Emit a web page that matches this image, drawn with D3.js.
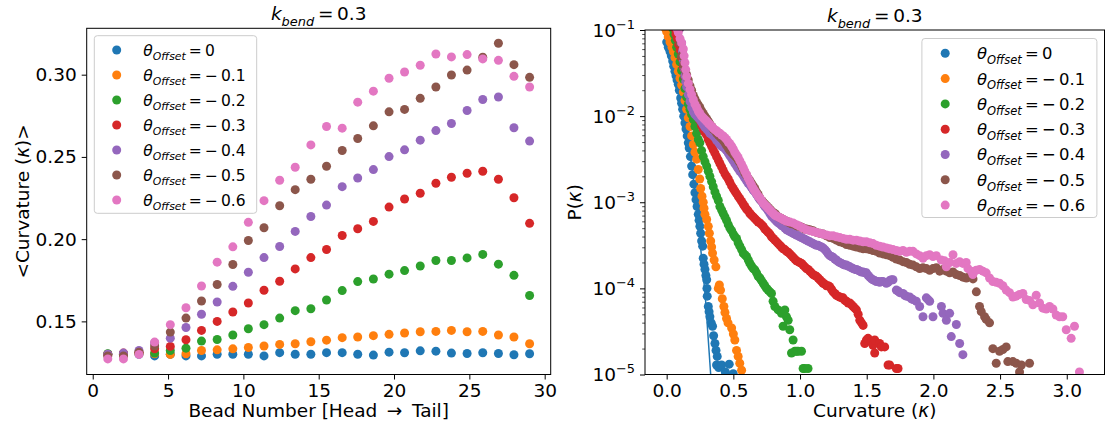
<!DOCTYPE html>
<html><head><meta charset="utf-8">
<script src="https://cdn.jsdelivr.net/npm/d3@7"></script>
<style>
body{margin:0;background:#fff}
svg{display:block}
text{font-family:"DejaVu Sans",sans-serif;fill:#000}
</style></head>
<body><svg id="c" width="1109" height="430"></svg>
<script>
// ---------------- data ----------------
const colors = ["#1f77b4","#ff7f0e","#2ca02c","#d62728","#9467bd","#8c564b","#e377c2"];
const offsets = ["0","\u2212\u20090.1","\u2212\u20090.2","\u2212\u20090.3","\u2212\u20090.4","\u2212\u20090.5","\u2212\u20090.6"];
const titleValue = "0.3";

// left panel: bead positions and mean curvature per offset
const beads = [1.00,2.04,3.07,4.11,5.15,6.19,7.22,8.26,9.30,10.33,11.37,12.41,13.44,14.48,15.52,16.56,17.59,18.63,19.67,20.70,21.74,22.78,23.81,24.85,25.89,26.93,27.96,29.00];
const meanK0 = [0.130,0.130,0.130,0.129,0.130,0.129,0.129,0.130,0.130,0.130,0.129,0.131,0.130,0.130,0.131,0.131,0.130,0.1295,0.1313,0.1309,0.1321,0.1319,0.1307,0.1305,0.1309,0.1305,0.1297,0.1303];
const meanK1 = [0.130,0.130,0.1303,0.1303,0.1299,0.1303,0.1323,0.1327,0.1333,0.1341,0.135,0.136,0.1364,0.1376,0.1386,0.1401,0.1405,0.1413,0.1421,0.1429,0.1437,0.1439,0.1445,0.1437,0.1439,0.1417,0.1405,0.1364];
const meanK2 = [0.1303,0.1303,0.1307,0.1307,0.1323,0.1337,0.138,0.139,0.1417,0.1455,0.148,0.152,0.1565,0.1577,0.163,0.1687,0.1742,0.1758,0.1787,0.1809,0.1837,0.187,0.187,0.1886,0.1907,0.1848,0.178,0.1657];
const meanK3 = [0.1299,0.1307,0.1313,0.1333,0.1348,0.1388,0.1445,0.15,0.1557,0.1612,0.1689,0.1744,0.1819,0.1888,0.1937,0.2022,0.2063,0.2108,0.2195,0.2244,0.2279,0.234,0.2376,0.2401,0.2413,0.2364,0.2252,0.2096];
const meanK4 = [0.130,0.1307,0.1323,0.137,0.1398,0.1463,0.1543,0.1618,0.1713,0.1799,0.1888,0.1955,0.2047,0.2138,0.2207,0.2319,0.2372,0.2423,0.2502,0.2543,0.2602,0.266,0.2703,0.2782,0.2849,0.2864,0.2677,0.2596];
const meanK5 = [0.129,0.129,0.1313,0.135,0.1435,0.152,0.1624,0.1724,0.1846,0.1992,0.2069,0.2203,0.2301,0.2364,0.2443,0.2539,0.2612,0.2689,0.2774,0.2789,0.2856,0.2925,0.2998,0.3028,0.3106,0.3191,0.3061,0.2984];
const meanK6 = [0.1272,0.1272,0.1299,0.1374,0.148,0.1583,0.1715,0.186,0.1953,0.2102,0.2234,0.2358,0.2437,0.2573,0.2685,0.2675,0.2833,0.29,0.2978,0.3016,0.3057,0.3126,0.3108,0.3122,0.3096,0.3087,0.299,0.2925];
const meanSeries = [meanK0,meanK1,meanK2,meanK3,meanK4,meanK5,meanK6];

// right panel: histogram points [curvature, log10 P]
const hist0 = [[0.0,-1.14],[0.012,-1.2],[0.025,-1.25],[0.035,-1.30],[0.045,-1.36],[0.053,-1.42],[0.062,-1.48],[0.07,-1.53],[0.078,-1.58],[0.087,-1.63],[0.095,-1.70],[0.105,-1.79],[0.112,-1.85],[0.12,-1.92],[0.128,-2.0],[0.137,-2.08],[0.145,-2.15],[0.154,-2.23],[0.162,-2.31],[0.169,-2.37],[0.178,-2.47],[0.187,-2.58],[0.195,-2.68],[0.204,-2.79],[0.212,-2.89],[0.22,-2.97],[0.228,-3.05],[0.237,-3.14],[0.243,-3.21],[0.249,-3.28],[0.255,-3.36],[0.262,-3.45],[0.27,-3.51],[0.274,-3.65],[0.28,-3.72],[0.287,-3.78],[0.294,-3.85],[0.3,-3.90],[0.302,-4.0],[0.304,-4.09],[0.312,-4.21],[0.318,-4.27],[0.324,-4.33],[0.334,-4.40],[0.344,-4.44],[0.352,-4.55],[0.362,-4.64],[0.37,-4.72],[0.379,-4.79],[0.374,-4.89],[0.39,-4.92],[0.412,-4.89],[0.44,-4.97],[0.469,-4.88],[0.499,-4.99]];
const fit0 = [[-0.01,-1.05],[0.03,-1.2],[0.06,-1.42],[0.1,-1.72],[0.15,-2.15],[0.2,-2.72],[0.25,-3.45],[0.29,-4.1],[0.33,-5.0],[0.34,-5.2]];
const hist1 = [[-0.01,-0.98],[0.0,-1.02],[0.012,-1.08],[0.025,-1.14],[0.04,-1.2],[0.05,-1.25],[0.062,-1.32],[0.075,-1.4],[0.087,-1.48],[0.1,-1.56],[0.112,-1.64],[0.125,-1.72],[0.137,-1.82],[0.15,-1.92],[0.162,-2.02],[0.175,-2.12],[0.187,-2.23],[0.2,-2.33],[0.212,-2.42],[0.225,-2.5],[0.237,-2.62],[0.248,-2.73],[0.255,-2.84],[0.265,-2.93],[0.274,-3.0],[0.28,-3.07],[0.287,-3.14],[0.3,-3.2],[0.312,-3.28],[0.32,-3.36],[0.33,-3.45],[0.337,-3.52],[0.344,-3.59],[0.356,-3.67],[0.369,-3.75],[0.387,-4.0],[0.395,-3.96],[0.404,-4.02],[0.417,-4.12],[0.429,-4.21],[0.437,-4.28],[0.449,-4.35],[0.46,-4.4],[0.487,-4.46],[0.5,-4.53],[0.511,-4.6],[0.524,-4.72],[0.536,-4.79],[0.548,-4.87],[0.562,-4.95]];
const hist2 = [[0.045,-0.98],[0.055,-1.05],[0.065,-1.12],[0.075,-1.2],[0.087,-1.28],[0.1,-1.37],[0.112,-1.47],[0.125,-1.57],[0.137,-1.68],[0.15,-1.78],[0.162,-1.86],[0.175,-1.92],[0.187,-1.98],[0.2,-2.04],[0.212,-2.12],[0.225,-2.2],[0.237,-2.27],[0.249,-2.31],[0.262,-2.4],[0.274,-2.47],[0.287,-2.53],[0.3,-2.58],[0.312,-2.64],[0.324,-2.7],[0.337,-2.76],[0.349,-2.82],[0.362,-2.88],[0.374,-2.93],[0.387,-2.98],[0.399,-3.05],[0.412,-3.09],[0.424,-3.13],[0.437,-3.17],[0.449,-3.21],[0.462,-3.26],[0.474,-3.3],[0.487,-3.33],[0.5,-3.37],[0.511,-3.40],[0.524,-3.42],[0.536,-3.47],[0.549,-3.51],[0.562,-3.55],[0.574,-3.59],[0.586,-3.61],[0.599,-3.63],[0.612,-3.67],[0.624,-3.71],[0.636,-3.74],[0.649,-3.77],[0.661,-3.785],[0.674,-3.82],[0.686,-3.86],[0.699,-3.88],[0.711,-3.91],[0.724,-3.94],[0.736,-3.97],[0.749,-4.0],[0.761,-4.02],[0.774,-4.04],[0.786,-4.06],[0.798,-4.15],[0.811,-4.21],[0.836,-4.25],[0.861,-4.29],[0.873,-4.44],[0.886,-4.25],[0.898,-4.33],[0.911,-4.37],[0.923,-4.48],[0.936,-4.75],[0.948,-4.6],[0.961,-4.73],[0.974,-4.73],[0.986,-4.73],[1.011,-4.73],[1.023,-4.93],[1.035,-4.93],[1.06,-4.93]];
const hist3 = [[0.06,-0.98],[0.07,-1.05],[0.08,-1.1],[0.09,-1.17],[0.1,-1.23],[0.112,-1.32],[0.125,-1.43],[0.137,-1.54],[0.15,-1.61],[0.162,-1.67],[0.175,-1.73],[0.187,-1.79],[0.2,-1.84],[0.212,-1.89],[0.225,-1.95],[0.237,-2.01],[0.249,-2.05],[0.262,-2.11],[0.274,-2.15],[0.287,-2.19],[0.3,-2.22],[0.312,-2.27],[0.324,-2.31],[0.337,-2.35],[0.349,-2.39],[0.362,-2.43],[0.374,-2.47],[0.387,-2.51],[0.399,-2.55],[0.412,-2.59],[0.424,-2.63],[0.437,-2.67],[0.449,-2.70],[0.462,-2.73],[0.474,-2.77],[0.487,-2.81],[0.499,-2.84],[0.511,-2.87],[0.524,-2.9],[0.536,-2.93],[0.549,-2.96],[0.562,-2.99],[0.574,-3.02],[0.586,-3.05],[0.599,-3.08],[0.611,-3.1],[0.624,-3.13],[0.636,-3.15],[0.649,-3.17],[0.661,-3.19],[0.674,-3.21],[0.686,-3.23],[0.699,-3.24],[0.711,-3.26],[0.724,-3.28],[0.736,-3.31],[0.749,-3.33],[0.761,-3.35],[0.774,-3.37],[0.786,-3.40],[0.799,-3.42],[0.811,-3.44],[0.824,-3.46],[0.836,-3.48],[0.849,-3.50],[0.861,-3.52],[0.873,-3.54],[0.886,-3.55],[0.899,-3.57],[0.911,-3.58],[0.924,-3.60],[0.936,-3.62],[0.948,-3.64],[0.961,-3.66],[0.973,-3.68],[0.986,-3.69],[0.998,-3.70],[1.011,-3.71],[1.023,-3.73],[1.036,-3.75],[1.048,-3.77],[1.061,-3.78],[1.073,-3.80],[1.086,-3.82],[1.098,-3.84],[1.111,-3.85],[1.123,-3.86],[1.136,-3.88],[1.148,-3.90],[1.161,-3.92],[1.173,-3.94],[1.186,-3.95],[1.198,-3.97],[1.211,-3.97],[1.223,-3.98],[1.236,-4.01],[1.248,-4.04],[1.261,-4.06],[1.273,-4.08],[1.286,-4.09],[1.298,-4.1],[1.311,-4.11],[1.323,-4.11],[1.336,-4.14],[1.348,-4.15],[1.361,-4.17],[1.373,-4.17],[1.386,-4.19],[1.398,-4.21],[1.411,-4.23],[1.423,-4.25],[1.436,-4.30],[1.448,-4.37],[1.461,-4.40],[1.473,-4.43],[1.485,-4.64],[1.498,-4.60],[1.51,-4.58],[1.535,-4.62],[1.547,-4.66],[1.56,-4.60],[1.56,-4.75],[1.597,-4.64],[1.61,-4.68],[1.635,-4.68],[1.66,-4.89],[1.672,-4.89],[1.722,-4.93],[1.735,-4.93]];
const hist4 = [[0.1,-0.98],[0.112,-1.15],[0.118,-1.25],[0.125,-1.36],[0.131,-1.45],[0.137,-1.53],[0.143,-1.6],[0.15,-1.66],[0.162,-1.75],[0.175,-1.83],[0.187,-1.9],[0.2,-1.95],[0.212,-1.98],[0.225,-2.0],[0.237,-2.02],[0.249,-2.04],[0.262,-2.07],[0.274,-2.1],[0.287,-2.13],[0.3,-2.15],[0.312,-2.17],[0.324,-2.2],[0.337,-2.21],[0.349,-2.23],[0.362,-2.25],[0.374,-2.28],[0.387,-2.3],[0.399,-2.33],[0.412,-2.35],[0.424,-2.36],[0.437,-2.38],[0.449,-2.4],[0.462,-2.43],[0.474,-2.46],[0.487,-2.49],[0.499,-2.52],[0.511,-2.55],[0.524,-2.58],[0.536,-2.61],[0.549,-2.64],[0.562,-2.66],[0.574,-2.69],[0.586,-2.72],[0.599,-2.75],[0.611,-2.78],[0.624,-2.8],[0.636,-2.83],[0.649,-2.86],[0.661,-2.88],[0.674,-2.91],[0.686,-2.94],[0.699,-2.97],[0.711,-2.99],[0.724,-3.02],[0.736,-3.05],[0.749,-3.07],[0.761,-3.1],[0.774,-3.13],[0.786,-3.16],[0.799,-3.18],[0.811,-3.2],[0.824,-3.22],[0.836,-3.24],[0.849,-3.25],[0.861,-3.27],[0.873,-3.28],[0.886,-3.3],[0.899,-3.32],[0.911,-3.33],[0.924,-3.34],[0.936,-3.35],[0.948,-3.36],[0.961,-3.37],[0.973,-3.38],[0.986,-3.39],[0.998,-3.4],[1.011,-3.41],[1.023,-3.42],[1.036,-3.43],[1.048,-3.44],[1.061,-3.45],[1.073,-3.46],[1.086,-3.47],[1.098,-3.48],[1.111,-3.49],[1.123,-3.50],[1.136,-3.50],[1.148,-3.51],[1.161,-3.52],[1.173,-3.53],[1.186,-3.55],[1.198,-3.57],[1.211,-3.6],[1.223,-3.62],[1.236,-3.63],[1.248,-3.64],[1.261,-3.66],[1.273,-3.67],[1.286,-3.69],[1.298,-3.70],[1.311,-3.71],[1.323,-3.72],[1.336,-3.73],[1.348,-3.73],[1.361,-3.74],[1.373,-3.75],[1.386,-3.76],[1.398,-3.77],[1.411,-3.78],[1.423,-3.78],[1.436,-3.79],[1.448,-3.80],[1.461,-3.81],[1.473,-3.81],[1.486,-3.82],[1.498,-3.82],[1.511,-3.85],[1.523,-3.87],[1.536,-3.89],[1.547,-3.9],[1.56,-3.91],[1.572,-3.92],[1.585,-3.92],[1.597,-3.93],[1.61,-3.92],[1.622,-3.92],[1.647,-3.94],[1.66,-3.93],[1.672,-3.91],[1.685,-3.9],[1.697,-3.9],[1.722,-4.02],[1.735,-4.03],[1.747,-4.05],[1.772,-4.06],[1.785,-4.08],[1.797,-4.09],[1.822,-4.1],[1.835,-4.12],[1.847,-4.13],[1.872,-4.15],[1.897,-4.21],[1.922,-4.33],[1.947,-4.11],[1.96,-4.13],[1.972,-4.15],[1.997,-4.33],[2.06,-4.21],[2.072,-4.29],[2.097,-4.37],[2.122,-4.29],[2.134,-4.56],[2.172,-4.42],[2.197,-4.64],[2.221,-4.77]];
const hist5 = [[0.087,-1.0],[0.1,-1.15],[0.112,-1.3],[0.125,-1.4],[0.137,-1.46],[0.15,-1.52],[0.162,-1.58],[0.175,-1.65],[0.187,-1.7],[0.2,-1.76],[0.212,-1.8],[0.225,-1.84],[0.237,-1.87],[0.249,-1.9],[0.262,-1.94],[0.274,-1.97],[0.287,-2.0],[0.3,-2.03],[0.312,-2.06],[0.324,-2.09],[0.337,-2.12],[0.349,-2.15],[0.362,-2.17],[0.374,-2.2],[0.387,-2.22],[0.399,-2.24],[0.412,-2.26],[0.424,-2.28],[0.437,-2.31],[0.449,-2.34],[0.462,-2.37],[0.474,-2.4],[0.487,-2.42],[0.499,-2.44],[0.511,-2.46],[0.524,-2.48],[0.536,-2.51],[0.549,-2.54],[0.562,-2.58],[0.574,-2.62],[0.586,-2.66],[0.599,-2.69],[0.611,-2.72],[0.624,-2.75],[0.636,-2.78],[0.649,-2.81],[0.661,-2.84],[0.674,-2.88],[0.686,-2.91],[0.699,-2.95],[0.711,-2.98],[0.724,-3.0],[0.736,-3.02],[0.749,-3.04],[0.761,-3.06],[0.774,-3.08],[0.786,-3.10],[0.799,-3.12],[0.811,-3.13],[0.824,-3.15],[0.836,-3.17],[0.849,-3.18],[0.861,-3.19],[0.873,-3.20],[0.886,-3.21],[0.899,-3.22],[0.911,-3.23],[0.924,-3.24],[0.936,-3.25],[0.948,-3.25],[0.961,-3.26],[0.973,-3.27],[0.986,-3.28],[0.998,-3.28],[1.011,-3.29],[1.023,-3.30],[1.036,-3.31],[1.048,-3.31],[1.061,-3.32],[1.073,-3.32],[1.086,-3.33],[1.098,-3.33],[1.123,-3.35],[1.148,-3.36],[1.173,-3.37],[1.198,-3.39],[1.223,-3.41],[1.248,-3.42],[1.273,-3.44],[1.298,-3.46],[1.323,-3.47],[1.348,-3.49],[1.373,-3.5],[1.398,-3.51],[1.423,-3.52],[1.448,-3.53],[1.473,-3.54],[1.498,-3.54],[1.523,-3.55],[1.547,-3.56],[1.572,-3.57],[1.597,-3.59],[1.622,-3.6],[1.648,-3.61],[1.672,-3.62],[1.697,-3.64],[1.722,-3.66],[1.747,-3.67],[1.772,-3.69],[1.797,-3.70],[1.822,-3.72],[1.847,-3.73],[1.872,-3.75],[1.897,-3.77],[1.922,-3.76],[1.947,-3.77],[1.972,-3.79],[1.997,-3.77],[2.022,-3.76],[2.047,-3.8],[2.072,-3.78],[2.097,-3.8],[2.122,-3.82],[2.147,-3.81],[2.172,-3.84],[2.197,-3.85],[2.222,-3.87],[2.247,-3.88],[2.272,-3.86],[2.297,-3.89],[2.322,-4.04],[2.346,-4.21],[2.359,-4.27],[2.384,-4.33],[2.396,-4.36],[2.421,-4.40],[2.446,-4.70],[2.471,-4.87],[2.496,-4.73],[2.521,-4.71],[2.546,-4.68],[2.558,-4.85],[2.596,-4.85],[2.621,-4.87],[2.646,-4.97],[2.66,-4.89],[2.721,-4.87]];
const hist6 = [[0.075,-0.98],[0.087,-1.03],[0.1,-1.1],[0.112,-1.15],[0.125,-1.22],[0.131,-1.3],[0.137,-1.38],[0.143,-1.46],[0.15,-1.54],[0.162,-1.62],[0.175,-1.69],[0.187,-1.75],[0.2,-1.81],[0.212,-1.86],[0.225,-1.9],[0.237,-1.94],[0.249,-1.97],[0.262,-2.0],[0.274,-2.02],[0.287,-2.04],[0.3,-2.06],[0.312,-2.08],[0.324,-2.1],[0.337,-2.12],[0.349,-2.14],[0.362,-2.16],[0.374,-2.17],[0.387,-2.19],[0.399,-2.2],[0.412,-2.22],[0.424,-2.23],[0.437,-2.25],[0.449,-2.27],[0.462,-2.3],[0.474,-2.32],[0.487,-2.35],[0.499,-2.38],[0.511,-2.42],[0.524,-2.45],[0.536,-2.48],[0.549,-2.52],[0.562,-2.56],[0.574,-2.6],[0.586,-2.64],[0.599,-2.68],[0.611,-2.72],[0.624,-2.76],[0.636,-2.8],[0.649,-2.84],[0.661,-2.87],[0.674,-2.9],[0.686,-2.93],[0.699,-2.95],[0.711,-2.98],[0.724,-3.01],[0.736,-3.03],[0.749,-3.05],[0.761,-3.07],[0.774,-3.09],[0.786,-3.11],[0.799,-3.13],[0.811,-3.15],[0.824,-3.16],[0.836,-3.17],[0.849,-3.18],[0.861,-3.19],[0.873,-3.2],[0.886,-3.21],[0.899,-3.22],[0.924,-3.23],[0.948,-3.24],[0.973,-3.26],[0.998,-3.28],[1.023,-3.3],[1.048,-3.32],[1.073,-3.33],[1.098,-3.34],[1.123,-3.35],[1.148,-3.36],[1.173,-3.37],[1.198,-3.38],[1.223,-3.39],[1.248,-3.39],[1.273,-3.40],[1.298,-3.41],[1.323,-3.42],[1.348,-3.43],[1.373,-3.43],[1.398,-3.44],[1.423,-3.44],[1.448,-3.45],[1.473,-3.46],[1.498,-3.46],[1.523,-3.47],[1.547,-3.48],[1.572,-3.50],[1.597,-3.51],[1.622,-3.52],[1.648,-3.53],[1.672,-3.54],[1.697,-3.55],[1.722,-3.56],[1.747,-3.57],[1.772,-3.56],[1.797,-3.58],[1.822,-3.57],[1.847,-3.57],[1.872,-3.6],[1.897,-3.62],[1.922,-3.65],[1.947,-3.62],[1.972,-3.61],[1.997,-3.63],[2.022,-3.62],[2.059,-3.67],[2.084,-3.68],[2.097,-3.75],[2.122,-3.70],[2.147,-3.61],[2.172,-3.71],[2.197,-3.69],[2.221,-3.71],[2.246,-3.7],[2.259,-3.77],[2.284,-3.8],[2.296,-3.84],[2.321,-3.79],[2.346,-3.78],[2.371,-3.8],[2.396,-3.82],[2.421,-3.88],[2.446,-3.92],[2.471,-3.93],[2.496,-3.94],[2.521,-3.97],[2.546,-4.02],[2.571,-4.05],[2.596,-4.10],[2.621,-4.09],[2.646,-4.07],[2.671,-4.06],[2.696,-4.13],[2.721,-4.14],[2.746,-4.19],[2.771,-4.08],[2.796,-4.17],[2.821,-4.23],[2.846,-4.24],[2.871,-4.21],[2.896,-4.24],[2.921,-4.31],[2.946,-4.33],[2.97,-4.33],[2.996,-4.48],[3.033,-4.58],[3.058,-4.44],[3.095,-4.97]];
const histSeries = [hist0,hist1,hist2,hist3,hist4,hist5,hist6];

const leftXTicks = [0,5,10,15,20,25,30];
const leftYTicks = [0.15,0.20,0.25,0.30];
const rightXTicks = [0,0.5,1.0,1.5,2.0,2.5,3.0];
const rightYExp = [-1,-2,-3,-4,-5];

// ---------------- drawing ----------------
const svg = d3.select("#c");
const FS = 18.5, R = 4.5;

function mathText(g, x, y, parts, fs, anchor) {
  const t = g.append("text").attr("x", x).attr("y", y).attr("font-size", fs)
    .attr("text-anchor", anchor || "start");
  let shifted = 0;
  parts.forEach(p => {
    const ts = t.append("tspan").text(p.t);
    let want = p.sub ? 0.3 * fs : (p.sup ? -0.42 * fs : 0);
    if (want !== shifted) { ts.attr("dy", want - shifted); shifted = want; }
    if (p.sub || p.sup) ts.attr("font-size", fs * 0.7);
    if (p.it) ts.attr("font-style", "italic");
  });
  return t;
}

function legend(g, box, rowY0, step, mx, tx, fs) {
  g.append("rect").attr("x", box[0]).attr("y", box[1]).attr("width", box[2]).attr("height", box[3])
    .attr("rx", 3).attr("fill", "#fff").attr("fill-opacity", 0.8).attr("stroke", "#cccccc").attr("stroke-width", 1);
  offsets.forEach((o, i) => {
    const cy = rowY0 + i * step;
    g.append("circle").attr("cx", mx).attr("cy", cy).attr("r", R).attr("fill", colors[i]);
    mathText(g, tx, cy + fs * 0.36, [{t: "\u03b8", it: true}, {t: "Offset", it: true, sub: true}, {t: "\u2009=\u2009" + o}], fs);
  });
}

// ----- left panel -----
const L = {x0: 86.7, x1: 550.7, y0: 28.3, y1: 374.5};
const xL = d3.scaleLinear().domain([-0.4, 30.4]).range([L.x0, L.x1]);
const yL = d3.scaleLinear().domain([0.1177, 0.3282]).range([L.y1, L.y0]);
const gL = svg.append("g");

const axL = gL.append("g").attr("transform", `translate(0,${L.y1})`)
  .call(d3.axisBottom(xL).tickValues(leftXTicks).tickFormat(d3.format("d")).tickSize(5).tickPadding(4.5));
const ayL = gL.append("g").attr("transform", `translate(${L.x0},0)`)
  .call(d3.axisLeft(yL).tickValues(leftYTicks).tickFormat(d3.format(".2f")).tickSize(5).tickPadding(5));
[axL, ayL].forEach(a => {
  a.select(".domain").remove();
  a.selectAll("line").attr("stroke", "#000").attr("stroke-width", 1);
  a.selectAll("text").attr("font-size", FS).attr("font-family", "DejaVu Sans").attr("fill", "#000");
});

meanSeries.forEach((s, i) => {
  gL.append("g").selectAll("circle").data(s).join("circle")
    .attr("cx", (d, j) => xL(beads[j])).attr("cy", d => yL(d)).attr("r", R).attr("fill", colors[i]);
});
gL.append("rect").attr("x", L.x0).attr("y", L.y0).attr("width", L.x1 - L.x0).attr("height", L.y1 - L.y0)
  .attr("fill", "none").attr("stroke", "#000").attr("stroke-width", 1);
legend(gL, [L.x0 + 7.6, L.y0 + 7.4, 162.4, 177.6], L.y0 + 21.7, 25, L.x0 + 30, L.x0 + 56.6, 15.5);

mathText(gL, (L.x0 + L.x1) / 2, L.y0 - 8, [{t: "k", it: true}, {t: "bend", it: true, sub: true}, {t: "\u2009=\u2009" + titleValue}], FS, "middle");
gL.append("text").attr("x", (L.x0 + L.x1) / 2).attr("y", 417).attr("font-size", FS).attr("text-anchor", "middle")
  .text("Bead Number [Head\u00a0\u2009\u2192\u2009\u00a0Tail]");
const ylab = gL.append("text").attr("transform", `translate(29,${(L.y0 + L.y1) / 2}) rotate(-90)`)
  .attr("font-size", FS).attr("text-anchor", "middle");
ylab.append("tspan").text("<Curvature (");
ylab.append("tspan").attr("font-style", "italic").text("\u03ba");
ylab.append("tspan").text(")>");

// ----- right panel -----
const Rp = {x0: 645, x1: 1104.5, y0: 30, y1: 374.5};
const xR = d3.scaleLinear().domain([-0.1625, 3.283]).range([Rp.x0, Rp.x1]);
const yR = d3.scaleLog().domain([1e-5, 1e-1]).range([Rp.y1, Rp.y0]);
const gR = svg.append("g");
svg.append("defs").append("clipPath").attr("id", "clipR").append("rect")
  .attr("x", Rp.x0).attr("y", Rp.y0).attr("width", Rp.x1 - Rp.x0).attr("height", Rp.y1 - Rp.y0);

const axR = gR.append("g").attr("transform", `translate(0,${Rp.y1})`)
  .call(d3.axisBottom(xR).tickValues(rightXTicks).tickFormat(d3.format(".1f")).tickSize(5).tickPadding(4.5));
const majors = rightYExp.map(e => Math.pow(10, e));
const minors = [];
[-5, -4, -3, -2].forEach(e => { for (let m = 2; m <= 9; m++) minors.push(m * Math.pow(10, e)); });
const ayR = gR.append("g").attr("transform", `translate(${Rp.x0},0)`)
  .call(d3.axisLeft(yR).tickValues(majors).tickFormat("").tickSize(5));
const ayRm = gR.append("g").attr("transform", `translate(${Rp.x0},0)`)
  .call(d3.axisLeft(yR).tickValues(minors).tickFormat("").tickSize(2.8));
[axR, ayR, ayRm].forEach(a => {
  a.select(".domain").remove();
  a.selectAll("line").attr("stroke", "#000").attr("stroke-width", 1);
  a.selectAll("text").attr("font-size", FS).attr("font-family", "DejaVu Sans").attr("fill", "#000");
});
ayRm.selectAll("line").attr("stroke-width", 0.7);
rightYExp.forEach(e => {
  mathText(gR, Rp.x0 - 10, yR(Math.pow(10, e)) + 6.5, [{t: "10"}, {t: "\u2212" + Math.abs(e), sup: true}], FS, "end");
});

const plotR = gR.append("g").attr("clip-path", "url(#clipR)");
plotR.append("path").datum(fit0).attr("fill", "none").attr("stroke", colors[0]).attr("stroke-width", 1.5)
  .attr("d", d3.line().x(d => xR(d[0])).y(d => yR(Math.pow(10, d[1]))));
histSeries.forEach((s, i) => {
  plotR.append("g").selectAll("circle").data(s).join("circle")
    .attr("cx", d => xR(d[0])).attr("cy", d => yR(Math.pow(10, d[1]))).attr("r", R).attr("fill", colors[i]);
});
gR.append("rect").attr("x", Rp.x0).attr("y", Rp.y0).attr("width", Rp.x1 - Rp.x0).attr("height", Rp.y1 - Rp.y0)
  .attr("fill", "none").attr("stroke", "#000").attr("stroke-width", 1);
legend(gR, [Rp.x1 - 7.6 - 175, Rp.y0 + 8.5, 175, 179], Rp.y0 + 23.3, 25.3, Rp.x1 - 7.6 - 175 + 23.3, Rp.x1 - 7.6 - 175 + 55, 16.4);

mathText(gR, (Rp.x0 + Rp.x1) / 2, Rp.y0 - 8, [{t: "k", it: true}, {t: "bend", it: true, sub: true}, {t: "\u2009=\u2009" + titleValue}], FS, "middle");
const xlabR = gR.append("text").attr("x", (Rp.x0 + Rp.x1) / 2).attr("y", 417).attr("font-size", FS).attr("text-anchor", "middle");
xlabR.append("tspan").text("Curvature (");
xlabR.append("tspan").attr("font-style", "italic").text("\u03ba");
xlabR.append("tspan").text(")");
const ylabR = gR.append("text").attr("transform", `translate(581,${(Rp.y0 + Rp.y1) / 2}) rotate(-90)`)
  .attr("font-size", FS).attr("text-anchor", "middle");
ylabR.append("tspan").text("P(");
ylabR.append("tspan").attr("font-style", "italic").text("\u03ba");
ylabR.append("tspan").text(")");
</script></body></html>
